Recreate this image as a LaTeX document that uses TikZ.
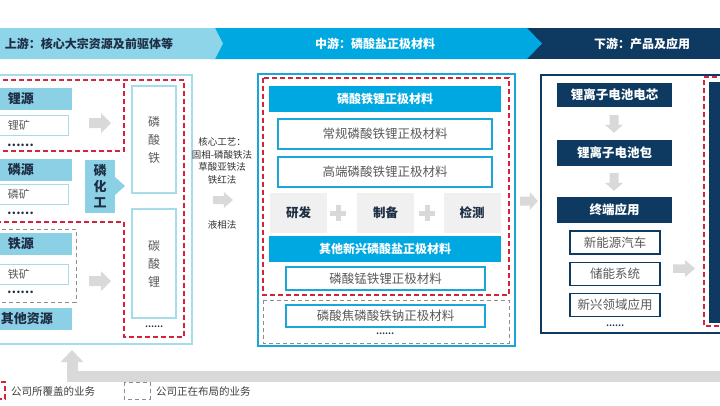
\documentclass[tikz,border=0pt]{standalone}
\usepackage{fontspec}
\setmainfont{Noto Sans CJK SC}
\usetikzlibrary{arrows.meta}

\definecolor{bandblue}{HTML}{8FD5EA}
\definecolor{midblue}{HTML}{00A8E2}
\definecolor{navy}{HTML}{0E3A62}
\definecolor{paleblue}{HTML}{A6DCEA}
\definecolor{headblue}{HTML}{8CD0E6}
\definecolor{linkblue}{HTML}{1AA6D8}
\definecolor{arrowgray}{HTML}{D9D9D9}
\definecolor{stepgray}{HTML}{F0F0F0}
\definecolor{dashred}{HTML}{D2233F}
\definecolor{dashgray}{HTML}{8C8C8C}
\definecolor{txtgray}{HTML}{5A5A5A}
\definecolor{txtdark}{HTML}{1E2E44}

\begin{document}
\begin{tikzpicture}
[
x=1pt, y=-1pt,
inner sep=0pt, outer sep=0pt,
every node/.style={text=txtgray},
banner/.style={font=\fontsize{12}{14}\selectfont\bfseries},
srchead/.style={rectangle, fill=headblue, anchor=west, minimum height=22, inner xsep=18, text width=46, align=left, text=txtdark, font=\fontsize{13}{15}\selectfont\bfseries},
srcbox/.style={rectangle, draw=paleblue, line width=1, fill=white, anchor=west, minimum height=20, inner xsep=18, text width=42, align=left, font=\fontsize{11}{13}\selectfont},
dots/.style={text=txtdark, font=\fontsize{12}{12}\selectfont\bfseries},
smalldots/.style={text=txtdark, font=\fontsize{8}{8}\selectfont\bfseries},
colbox/.style={rectangle, draw=paleblue, line width=1.2, fill=white, minimum width=44, align=center, font=\fontsize{12}{18}\selectfont},
proc/.style={align=center, text=black!80, font=\fontsize{9.5}{12.7}\selectfont},
midhead/.style={rectangle, fill=midblue, text=white, minimum width=232, minimum height=26, font=\fontsize{12}{14}\selectfont\bfseries},
midbox/.style={rectangle, draw=linkblue, line width=1.5, fill=white, font=\fontsize{12.5}{14}\selectfont},
stepbox/.style={rectangle, fill=stepgray, minimum width=57, minimum height=40, text=txtdark, font=\fontsize{12.5}{14}\selectfont\bfseries},
rhead/.style={rectangle, fill=navy, text=white, minimum width=115, font=\fontsize{12.5}{14}\selectfont\bfseries},
rbox/.style={rectangle, draw=navy, line width=1.2, fill=white, minimum width=90, minimum height=23, font=\fontsize{12.5}{14}\selectfont},
grayarrow/.pic={\fill [arrowgray] (-11,-5) -- (1,-5) -- (1,-10) -- (11,0) -- (1,10) -- (1,5) -- (-11,5) -- cycle;},
plusline/.style={arrowgray, line width=5},
reddash/.style={dashred, line width=1.2, dash pattern=on 5pt off 3pt},
graydash/.style={dashgray, line width=1, dash pattern=on 4pt off 3pt},
legend/.style={anchor=west, text=black!75, font=\fontsize{10.5}{12}\selectfont},
]
\useasboundingbox (0,0) rectangle (720,405);
\fill [white] (0,0) rectangle (720,405);

% top banner
\fill [navy] (520,28) rectangle (725,59);
\fill [midblue] (210,28) -- (527,28) -- (542,43.5) -- (527,59) -- (210,59) -- cycle;
\fill [bandblue] (-5,28) -- (215,28) -- (223,43.5) -- (215,59) -- (-5,59) -- cycle;
\node [banner, anchor=west, text=txtdark] (up)   at (5,43.5)   {上游：核心大宗资源及前驱体等};
\node [banner, text=white]                (mid)  at (375,43.5) {中游：磷酸盐正极材料};
\node [banner, text=white]                (down) at (642,43.5) {下游：产品及应用};

% upstream panel
\draw [paleblue, line width=1.5] (-5,75) rectangle (192,344);
\draw [reddash] (-5,80) -- (184,80) -- (184,337) -- (124,337) -- (124,222) -- (-5,222);
\draw [reddash] (-5,151) -- (124,151) -- (124,80);
\draw [graydash] (-5,229) -- (76,229) -- (76,302) -- (-5,302);

\node [srchead]  (Li)    at (-10,99)    {锂源};
\node [srcbox]   (LiOre) at (-10,125)   {锂矿};
\node [dots, anchor=west] (LiDots) at (7,145) {……};
\node [srchead]  (P)     at (-10,169.5) {磷源};
\node [srcbox]   (POre)  at (-10,194.5) {磷矿};
\node [dots, anchor=west] (PDots) at (7,213) {……};
\node [srchead]  (Fe)    at (-10,244)   {铁源};
\node [srcbox]   (FeOre) at (-10,274.5) {铁矿};
\node [dots, anchor=west] (FeDots) at (7,292) {……};
\node [srchead, inner xsep=11, text width=60] (Other) at (-10,319) {其他资源};

\node [rectangle, fill=headblue, minimum width=30, minimum height=53, align=center, text=txtdark,
       font=\fontsize{13}{16}\selectfont\bfseries] (Pchem) at (100,186.5) {磷\\化\\工};
\fill [headblue] (115,177) -- (125,186) -- (115,195) -- cycle;

\pic at (100,123) {grayarrow};
\pic at (100,281) {grayarrow};

\node [colbox, minimum height=107] (FePO) at (154,139.5) {磷\\酸\\铁};
\node [colbox, minimum height=109] (LiCO) at (154,263.5) {碳\\酸\\锂};
\node [smalldots] (ColDots) at (154,327) {……};

% process
\node [proc] (Craft) at (222,161) {核心工艺：\\固相-磷酸铁法\\草酸亚铁法\\铁红法};
\pic [xscale=0.9, yscale=0.8] at (223,200) {grayarrow};
\node [proc] (Liquid) at (222,225) {液相法};

% midstream panel
\draw [linkblue, line width=2] (258,74) rectangle (515,346);
\draw [reddash] (263,78) rectangle (509,295);
\draw [graydash] (263,300) rectangle (509,343);

\node [midhead] (LFP)    at (385,99)  {磷酸铁锂正极材料};
\node [midbox, minimum width=214, minimum height=30] (LFPa) at (385,134) {常规磷酸铁锂正极材料};
\node [midbox, minimum width=214, minimum height=30] (LFPb) at (385,172) {高端磷酸铁锂正极材料};

\node [stepbox] (RD)   at (298.5,213) {研发};
\node [stepbox] (Make) at (385.5,213) {制备};
\node [stepbox] (Test) at (472,213)   {检测};
\draw [plusline] (330,213) -- (346,213);
\draw [plusline] (338,205) -- (338,221);
\draw [plusline] (419,213) -- (435,213);
\draw [plusline] (427,205) -- (427,221);

\node [midhead] (NewP) at (385,249) {其他新兴磷酸盐正极材料};
\node [midbox, minimum width=199, minimum height=23] (LMFP) at (385.5,278.5) {磷酸锰铁锂正极材料};
\node [midbox, minimum width=199, minimum height=22] (NFPP) at (385.5,316)   {磷酸焦磷酸铁钠正极材料};
\node [smalldots] (MidDots) at (385,334) {……};

\pic [xscale=0.8, yscale=0.9] at (529,201) {grayarrow};

% downstream panel
\draw [navy, line width=2] (541,75) rectangle (725,333);
\draw [reddash] (725,77) -- (704,77) -- (704,326) -- (725,326);
\fill [navy] (709,82) rectangle (725,323);

\node [rhead, minimum height=24] (Cell) at (614.5,95)  {锂离子电池电芯};
\pic [rotate=-90, xscale=0.8, yscale=0.9] at (614,124) {grayarrow};
\node [rhead, minimum height=26] (Pack) at (614.5,153) {锂离子电池包};
\pic [rotate=-90, xscale=0.8, yscale=0.9] at (614,182) {grayarrow};
\node [rhead, minimum height=26] (Use)  at (614.5,210) {终端应用};
\node [rbox] (EV)    at (615,242.5) {新能源汽车};
\node [rbox] (ESS)   at (615,274)   {储能系统};
\node [rbox] (Emerg) at (615,305)   {新兴领域应用};
\node [smalldots] (RDots) at (615,326) {……};
\pic [yscale=0.85] at (684,268.5) {grayarrow};

% return arrow
\coordinate (LoopStart) at (725,376);
\coordinate (LoopEnd)   at (72,350);
\draw [arrowgray, line width=11, -{Triangle[width=22pt,length=12pt]}] (LoopStart) -| (LoopEnd);

% legend
\draw [reddash] (-10,382) rectangle (5,399);
\node [legend] (LegRed) at (11,391) {公司所覆盖的业务};
\draw [graydash] (124,382) rectangle (150,399);
\node [legend] (LegGray) at (156,391) {公司正在布局的业务};
\end{tikzpicture}
\end{document}
